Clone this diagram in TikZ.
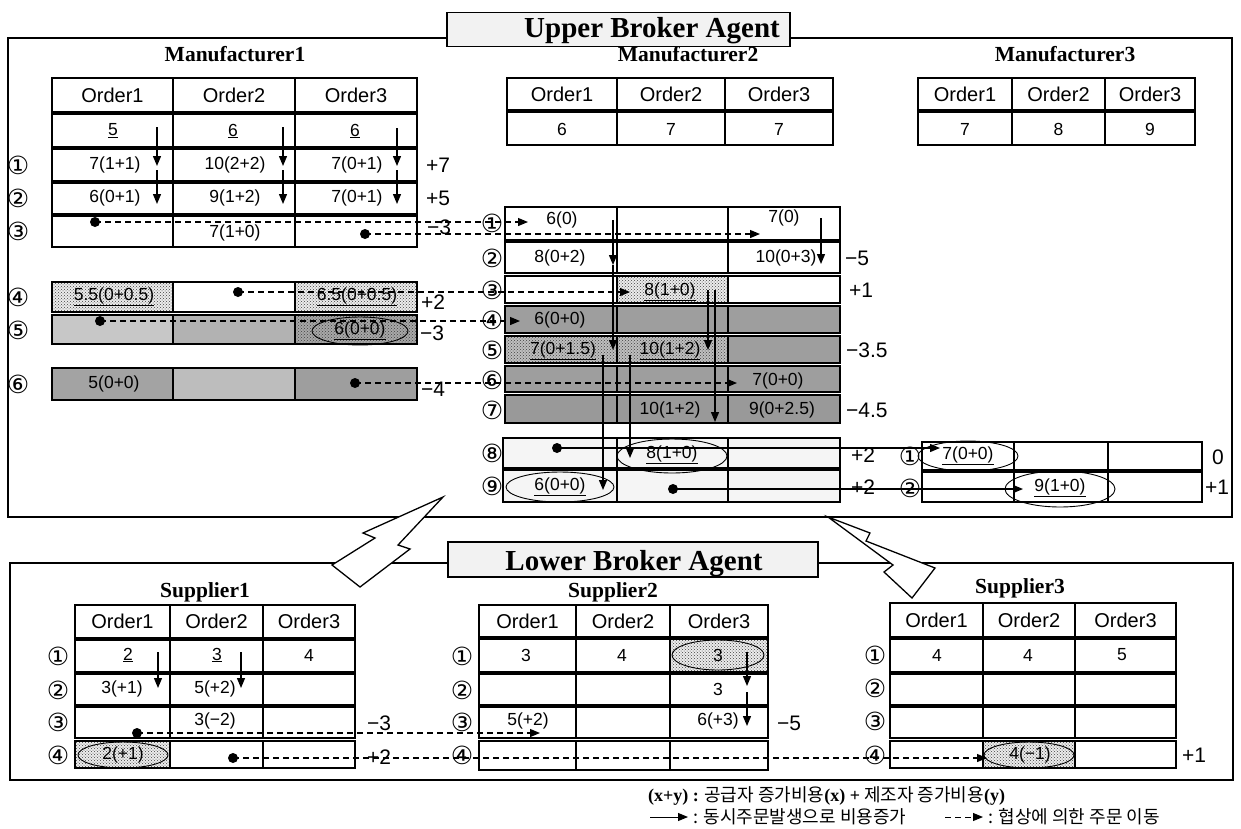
\documentclass[tikz,border=0pt]{standalone}
\usepackage{fontspec}
\setmainfont{Liberation Serif}
\setsansfont{Liberation Sans}
\newfontfamily\kofont{Noto Sans CJK KR}
\newfontfamily\circfont{DejaVu Sans}
\usepackage{tikz}
\usetikzlibrary{arrows.meta,patterns}

\newcommand{\cellfont}{\sffamily\fontsize{17.5}{19}\selectfont}
\newcommand{\headfont}{\sffamily\fontsize{20}{22}\selectfont}
\newcommand{\namefont}{\rmfamily\bfseries\fontsize{21.5}{24}\selectfont}
\newcommand{\agentfont}{\rmfamily\bfseries\fontsize{29}{32}\selectfont}
\newcommand{\sidefont}{\sffamily\fontsize{21}{23}\selectfont}
\newcommand{\numfont}{\circfont\fontsize{25}{27}\selectfont}
\newcommand{\legfont}{\kofont\fontsize{18}{20}\selectfont}

% one table row: frame and the two column lines
\newcommand{\tabrow}[6]{%
  \draw[rowframe] (#1,#2) rectangle (#3,#4);
  \draw[colline] (#5,#2) -- (#5,#4) (#6,#2) -- (#6,#4);}
% header row of a table
\newcommand{\headrow}[5]{%
  \node[headcell] (#1h1) at (#3,#2) {Order1};
  \node[headcell] (#1h2) at (#4,#2) {Order2};
  \node[headcell] (#1h3) at (#5,#2) {Order3};}
% dotted cell
\newcommand{\dotcell}[4]{%
  \fill[gray!15] (#1,#2) rectangle (#3,#4);
  \fill[dotfill] (#1,#2) rectangle (#3,#4);}

\tikzset{
  rowframe/.style={line width=2.3pt},
  colline/.style={line width=1.3pt},
  outerbox/.style={line width=2.6pt},
  agentbox/.style={draw,line width=1.4pt,fill=gray!10,inner sep=0pt},
  cell/.style={font=\cellfont,inner sep=0pt},
  headcell/.style={font=\headfont,inner sep=0pt},
  tabname/.style={font=\namefont,inner sep=0pt},
  circnum/.style={font=\numfont,inner sep=0pt},
  sidelab/.style={font=\sidefont,inner sep=0pt,anchor=west},
  dotmark/.style={circle,fill,inner sep=0pt,minimum size=10pt},
  negline/.style={line width=1.2pt,dash pattern=on 6pt off 4pt,-{Triangle[length=10pt,width=8pt]}},
  costline/.style={line width=1.3pt,-{Triangle[length=10pt,width=8pt]}},
  dotfill/.style={pattern=crosshatch dots,pattern color=black!75},
  ring/.style={line width=0.9pt},
  bolt/.style={draw,fill=white,line width=1.3pt,line join=miter},
}

\begin{document}
\begin{tikzpicture}[x=1pt,y=-1pt]
\useasboundingbox (0,0) rectangle (1241,828);

% fills
\dotcell{52}{282}{173}{312}
\dotcell{295}{282}{417}{312}
\fill[black!22] (52,315) rectangle (173,344);
\fill[black!30] (173,315) rectangle (295,344);
\fill[black!34] (295,315) rectangle (417,344);
\fill[dotfill] (295,315) rectangle (417,344);
\fill[black!36] (52,368) rectangle (173,400);
\fill[black!26] (173,368) rectangle (295,400);
\fill[black!38] (295,368) rectangle (417,400);
\dotcell{617}{276}{728}{303}
\fill[black!38] (505,306) rectangle (840,333);
\fill[black!25] (505,336) rectangle (728,363);
\fill[dotfill] (505,336) rectangle (728,363);
\fill[black!38] (728,336) rectangle (840,363);
\fill[black!38] (505,366) rectangle (840,392);
\fill[black!40] (505,395) rectangle (840,423);
\fill[gray!8] (503,438) rectangle (840,502);
\dotcell{75}{741}{170}{768}
\dotcell{670}{639}{768}{672}
\dotcell{983}{741}{1075}{768}

% Manufacturer1
\node[tabname] (m1name) at (235,54) {Manufacturer1};
\tabrow{52}{78}{417}{112}{173}{295}
\tabrow{52}{114}{417}{147}{173}{295}
\tabrow{52}{149}{417}{181}{173}{295}
\tabrow{52}{183}{417}{214}{173}{295}
\tabrow{52}{216}{417}{247}{173}{295}
\tabrow{52}{282}{417}{312}{173}{295}
\tabrow{52}{315}{417}{344}{173}{295}
\tabrow{52}{368}{417}{400}{173}{295}
\headrow{m1}{95}{112.5}{234}{356}
\node[cell] (m1v1) at (113,131) {\underline{5}};
\node[cell] (m1v2) at (233,131) {\underline{6}};
\node[cell] (m1v3) at (355,131) {\underline{6}};
\node[cell] (m1a1) at (115,165) {7(1+1)};
\node[cell] (m1a2) at (235,165) {10(2+2)};
\node[cell] (m1a3) at (357,165) {7(0+1)};
\node[cell] (m1b1) at (115,198) {6(0+1)};
\node[cell] (m1b2) at (235,198) {9(1+2)};
\node[cell] (m1b3) at (357,198) {7(0+1)};
\node[cell] (m1c2) at (235,233) {7(1+0)};
\node[cell] (m1d1) at (114,297) {\underline{5.5(0+0.5)}};
\node[cell] (m1d3) at (357,297) {\underline{6.5(0+0.5)}};
\node[cell] (m1e3) at (360,331) {\underline{6(0+0)}};
\node[cell] (m1f1) at (114,384) {5(0+0)};
\node[circnum] (m1n1) at (18,165) {①};
\node[circnum] (m1n2) at (18,198) {②};
\node[circnum] (m1n3) at (18,231) {③};
\node[circnum] (m1n4) at (18,297) {④};
\node[circnum] (m1n5) at (18,330) {⑤};
\node[circnum] (m1n6) at (18,384) {⑥};
\node[sidelab] (m1s1) at (426,165) {+7};
\node[sidelab] (m1s2) at (426,198) {+5};
\node[sidelab] (m1s3) at (427,227) {−3};
\node[sidelab] (m1s4) at (421,302) {+2};
\node[sidelab] (m1s5) at (420,333) {−3};
\node[sidelab] (m1s6) at (421,389) {−4};

% Manufacturer2 and Manufacturer3, first offers
\node[tabname] (m2name) at (688,54) {Manufacturer2};
\tabrow{507}{78}{833}{110}{617}{725}
\tabrow{507}{112}{833}{145}{617}{725}
\headrow{m2}{94}{562}{671}{779}
\node[cell] (m2v1) at (562,129) {6};
\node[cell] (m2v2) at (671,129) {7};
\node[cell] (m2v3) at (779,129) {7};
\node[tabname] (m3name) at (1065,54) {Manufacturer3};
\tabrow{918}{78}{1195}{110}{1012}{1105}
\tabrow{918}{112}{1195}{145}{1012}{1105}
\headrow{m3}{94}{965}{1058.5}{1150}
\node[cell] (m3v1) at (965,129) {7};
\node[cell] (m3v2) at (1058.5,129) {8};
\node[cell] (m3v3) at (1150,129) {9};

% Manufacturer2, negotiation
\tabrow{505}{207}{840}{240}{617}{728}
\tabrow{505}{242}{840}{273}{617}{728}
\tabrow{505}{276}{840}{303}{617}{728}
\tabrow{505}{306}{840}{333}{617}{728}
\tabrow{505}{336}{840}{363}{617}{728}
\tabrow{505}{366}{840}{392}{617}{728}
\tabrow{505}{395}{840}{423}{617}{728}
\tabrow{503}{438}{840}{468}{617}{728}
\tabrow{503}{470}{840}{502}{617}{728}
\node[cell] (m2a1) at (562,220) {6(0)};
\node[cell] (m2a3) at (784,218) {7(0)};
\node[cell] (m2b1) at (560,258) {8(0+2)};
\node[cell] (m2b3) at (786,258) {10(0+3)};
\node[cell] (m2c2) at (670,292) {\underline{8(1+0)}};
\node[cell] (m2d1) at (560,320) {6(0+0)};
\node[cell] (m2e1) at (563,351) {\underline{7(0+1.5)}};
\node[cell] (m2e2) at (670,351) {\underline{10(1+2)}};
\node[cell] (m2f3) at (778,381) {7(0+0)};
\node[cell] (m2g2) at (670,410) {10(1+2)};
\node[cell] (m2g3) at (782,410) {9(0+2.5)};
\node[cell] (m2h2) at (672,455) {\underline{8(1+0)}};
\node[cell] (m2i1) at (560,487) {\underline{6(0+0)}};
\node[circnum] (m2n1) at (492,223) {①};
\node[circnum] (m2n2) at (492,258) {②};
\node[circnum] (m2n3) at (492,290) {③};
\node[circnum] (m2n4) at (492,320) {④};
\node[circnum] (m2n5) at (492,350) {⑤};
\node[circnum] (m2n6) at (492,380) {⑥};
\node[circnum] (m2n7) at (492,410) {⑦};
\node[circnum] (m2n8) at (492,453) {⑧};
\node[circnum] (m2n9) at (492,486) {⑨};
\node[sidelab] (m2s2) at (845,258) {−5};
\node[sidelab] (m2s3) at (849,290) {+1};
\node[sidelab] (m2s5) at (846,350) {−3.5};
\node[sidelab] (m2s7) at (846,410) {−4.5};
\node[sidelab] (m2s8) at (851,455) {+2};
\node[sidelab] (m2s9) at (851,487) {+2};

% Manufacturer3, negotiation
\tabrow{922}{442}{1202}{470}{1014}{1108}
\tabrow{922}{472}{1202}{502}{1014}{1108}
\node[cell] (m3a1) at (968,456) {\underline{7(0+0)}};
\node[cell] (m3b2) at (1060,488) {\underline{9(1+0)}};
\node[circnum] (m3n1) at (910,456) {①};
\node[circnum] (m3n2) at (910,488) {②};
\node[sidelab] (m3s1) at (1212,457) {0};
\node[sidelab] (m3s2) at (1205,487) {+1};

% Supplier1
\node[tabname] (s1name) at (205,592) {Supplier1};
\tabrow{75}{605}{355}{638}{170}{263}
\tabrow{75}{640}{355}{672}{170}{263}
\tabrow{75}{674}{355}{705}{170}{263}
\tabrow{75}{707}{355}{738}{170}{263}
\tabrow{75}{741}{355}{768}{170}{263}
\headrow{s1}{621}{122.5}{216.5}{309}
\node[cell] (s1a1) at (128,655) {\underline{2}};
\node[cell] (s1a2) at (217,655) {\underline{3}};
\node[cell] (s1a3) at (309,655) {4};
\node[cell] (s1b1) at (122,689) {3(+1)};
\node[cell] (s1b2) at (215,689) {5(+2)};
\node[cell] (s1c2) at (215,721) {3(−2)};
\node[cell] (s1d1) at (123,755) {2(+1)};
\node[circnum] (s1n1) at (58,656) {①};
\node[circnum] (s1n2) at (58,690) {②};
\node[circnum] (s1n3) at (58,722) {③};
\node[circnum] (s1n4) at (58,755) {④};
\node[sidelab] (s1s3) at (367,723) {−3};
\node[sidelab] (s1s4) at (367,757) {+2};

% Supplier2
\node[tabname] (s2name) at (613,592) {Supplier2};
\tabrow{479}{605}{768}{637}{576}{670}
\tabrow{479}{639}{768}{672}{576}{670}
\tabrow{479}{674}{768}{705}{576}{670}
\tabrow{479}{707}{768}{738}{576}{670}
\tabrow{479}{741}{768}{770}{576}{670}
\headrow{s2}{621}{527.5}{623}{719}
\node[cell] (s2a1) at (526,655) {3};
\node[cell] (s2a2) at (622,655) {4};
\node[cell] (s2a3) at (718,655) {3};
\node[cell] (s2b3) at (718,689) {3};
\node[cell] (s2c1) at (528,721) {5(+2)};
\node[cell] (s2c3) at (718,721) {6(+3)};
\node[circnum] (s2n1) at (462,656) {①};
\node[circnum] (s2n2) at (462,690) {②};
\node[circnum] (s2n3) at (462,722) {③};
\node[circnum] (s2n4) at (462,755) {④};
\node[sidelab] (s2s3) at (777,723) {−5};

% Supplier3
\node[tabname] (s3name) at (1020,588) {Supplier3};
\tabrow{890}{603}{1176}{637}{983}{1075}
\tabrow{890}{639}{1176}{672}{983}{1075}
\tabrow{890}{674}{1176}{705}{983}{1075}
\tabrow{890}{707}{1176}{738}{983}{1075}
\tabrow{890}{741}{1176}{768}{983}{1075}
\headrow{s3}{620}{936.5}{1029}{1125.5}
\node[cell] (s3a1) at (937,655) {4};
\node[cell] (s3a2) at (1028,655) {4};
\node[cell] (s3a3) at (1122,655) {5};
\node[cell] (s3d2) at (1030,755) {4(−1)};
\node[circnum] (s3n1) at (875,655) {①};
\node[circnum] (s3n2) at (875,688) {②};
\node[circnum] (s3n3) at (875,721) {③};
\node[circnum] (s3n4) at (875,755) {④};
\node[sidelab] (s3s4) at (1182,755) {+1};

% agent frames
\draw[outerbox] (447,38) -- (8,38) -- (8,517) -- (1232,517) -- (1232,38) -- (790,38);
\node[agentbox,minimum width=343pt,minimum height=34pt] (ubox) at (618.5,29.5) {};
\node[font=\agentfont,inner sep=0pt] (utitle) at (652,31) {Upper Broker Agent};
\draw[outerbox] (448,563) -- (10,563) -- (10,780) -- (1233,780) -- (1233,563) -- (818,563);
\node[agentbox,minimum width=370pt,minimum height=35pt] (lbox) at (633,559.5) {};
\node[font=\agentfont,inner sep=0pt] (ltitle) at (634,564) {Lower Broker Agent};

% lightning
\draw[bolt] (443,497) -- (398,545) -- (410,549) -- (360,587) -- (332,565) -- (375,538) -- (363,533) -- cycle;
\draw[bolt] (828,517) -- (870,533) -- (866,541) -- (935,568) -- (912,598) -- (884,572) -- (893,565) -- cycle;

% rings
\draw[ring] (360,331) ellipse [x radius=48pt,y radius=14pt];
\draw[ring] (672,456) ellipse [x radius=55pt,y radius=17pt];
\draw[ring] (560,487) ellipse [x radius=54pt,y radius=15pt];
\draw[ring] (968,456) ellipse [x radius=50pt,y radius=15pt];
\draw[ring] (1060,489) ellipse [x radius=55pt,y radius=18pt];
\draw[ring] (123,755) ellipse [x radius=45pt,y radius=13pt];
\draw[ring] (718,655) ellipse [x radius=46pt,y radius=15pt];
\draw[ring] (1029,755) ellipse [x radius=45pt,y radius=13pt];

% cost arrows
\coordinate (m1p1) at (157,127); \coordinate (m1q1) at (157,166); \coordinate (m1r1) at (157,204);
\coordinate (m1p2) at (283,127); \coordinate (m1q2) at (283,166); \coordinate (m1r2) at (283,204);
\coordinate (m1p3) at (397,128); \coordinate (m1q3) at (397,166); \coordinate (m1r3) at (397,204);
\draw[costline] (m1p1) -- (m1q1);
\draw[costline] ([yshift=-4pt]m1q1) -- (m1r1);
\draw[costline] (m1p2) -- (m1q2);
\draw[costline] ([yshift=-4pt]m1q2) -- (m1r2);
\draw[costline] (m1p3) -- (m1q3);
\draw[costline] ([yshift=-4pt]m1q3) -- (m1r3);
\coordinate (m2p1) at (613,220); \coordinate (m2q1) at (613,265); \coordinate (m2r1) at (613,350);
\coordinate (m2p3) at (821,218); \coordinate (m2q3) at (821,264);
\coordinate (m2p2) at (708,290); \coordinate (m2q2) at (708,350);
\coordinate (m2p4) at (715,290); \coordinate (m2q4) at (715,422);
\coordinate (m2p5) at (603,355); \coordinate (m2q5) at (603,490);
\coordinate (m2p6) at (630,355); \coordinate (m2q6) at (630,458);
\draw[costline] (m2p1) -- (m2q1);
\draw[costline] (m2q1) -- (m2r1);
\draw[costline] (m2p3) -- (m2q3);
\draw[costline] (m2p2) -- (m2q2);
\draw[costline] (m2p4) -- (m2q4);
\draw[costline] (m2p5) -- (m2q5);
\draw[costline] (m2p6) -- (m2q6);
\coordinate (s1p1) at (158,652); \coordinate (s1q1) at (158,688);
\coordinate (s1p2) at (241,652); \coordinate (s1q2) at (241,688);
\coordinate (s2p3) at (747,652); \coordinate (s2q3) at (747,686); \coordinate (s2r3) at (747,726);
\draw[costline] (s1p1) -- (s1q1);
\draw[costline] (s1p2) -- (s1q2);
\draw[costline] (s2p3) -- (s2q3);
\draw[costline] ([yshift=-6pt]s2q3) -- (s2r3);

% moves by negotiation
\node[dotmark] (m1k1) at (95,222) {};
\node[dotmark] (m1k2) at (365,234) {};
\node[dotmark] (m1k3) at (238,292) {};
\node[dotmark] (m1k4) at (100,321) {};
\node[dotmark] (m1k5) at (355,383) {};
\coordinate (m2t1) at (528,222);
\coordinate (m2t2) at (760,234);
\coordinate (m2t3) at (630,292);
\coordinate (m2t4) at (520,321);
\coordinate (m2t6) at (737,383);
\draw[negline] (m1k1.center) -- (m2t1);
\draw[negline] (m1k2.center) -- (m2t2);
\draw[negline] (m1k3.center) -- (m2t3);
\draw[negline] (m1k4.center) -- (m2t4);
\draw[negline] (m1k5.center) -- (m2t6);
\node[dotmark] (m2k8) at (557,448) {};
\node[dotmark] (m2k9) at (673,489) {};
\coordinate (m3t1) at (940,448);
\coordinate (m3t2) at (1023,489);
\draw[costline] (m2k8.center) -- (m3t1);
\draw[costline] (m2k9.center) -- (m3t2);
\node[dotmark] (s1k3) at (137,733) {};
\node[dotmark] (s1k4) at (233,758) {};
\coordinate (s2t3) at (540,733);
\coordinate (s3t4) at (987,758);
\draw[negline] (s1k3.center) -- (s2t3);
\draw[negline] (s1k4.center) -- (s3t4);

% legend
\node[anchor=west,font=\legfont,inner sep=0pt] (leg1) at (648,796)
  {{\rmfamily\bfseries(x+y) :} 공급자 증가비용{\rmfamily\bfseries(x) +} 제조자 증가비용{\rmfamily\bfseries(y)}};
\coordinate (lgA) at (650,817); \coordinate (lgB) at (688,817);
\draw[costline,line width=1pt] (lgA) -- (lgB);
\node[anchor=west,font=\legfont,inner sep=0pt] (leg2) at (693,817) {: 동시주문발생으로 비용증가};
\coordinate (lgC) at (945,817); \coordinate (lgD) at (983,817);
\draw[negline,line width=1pt] (lgC) -- (lgD);
\node[anchor=west,font=\legfont,inner sep=0pt] (leg3) at (988,817) {: 협상에 의한 주문 이동};
\end{tikzpicture}
\end{document}
